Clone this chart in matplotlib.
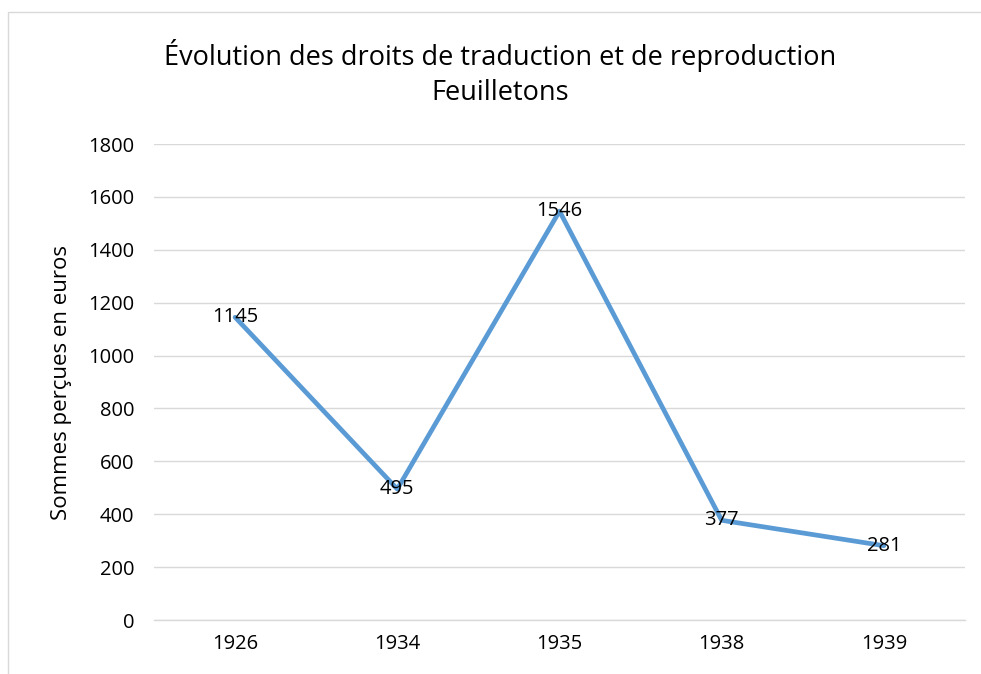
import matplotlib.pyplot as plt
from matplotlib.patches import Rectangle

annees = ['1926', '1934', '1935', '1938', '1939']
sommes = [1145, 495, 1546, 377, 281]
yticks = [0, 200, 400, 600, 800, 1000, 1200, 1400, 1600, 1800]

plt.rcParams['font.family'] = ['Open Sans', 'DejaVu Sans']

fig = plt.figure(figsize=(9.81, 6.74), dpi=100)
ax = fig.add_axes([154/981, 1 - 620/674, 811/981, 476/674])

# cadre du graphique
fig.add_artist(Rectangle((8/981, -0.1), 1.2, 1 - 12/674 + 0.1, transform=fig.transFigure,
                         fill=False, edgecolor='#d9d9d9', linewidth=1))

x = range(len(annees))
ax.plot(x, sommes, color='#5b9bd5', linewidth=3.4, solid_capstyle='round', zorder=2)
for i, v in zip(x, sommes):
    ax.text(i, v, str(v), ha='center', va='center', fontsize=14.5, color='black', zorder=3)

ax.set_xlim(-0.5, len(annees) - 0.5)
ax.set_ylim(0, 1800)
ax.set_xticks(list(x))
ax.set_xticklabels(annees, fontsize=14.5)
ax.set_yticks(yticks)
ax.set_yticklabels([str(t) for t in yticks], fontsize=14.5)
ax.tick_params(length=0, pad=14)
ax.tick_params(axis='x', pad=10)
ax.grid(axis='y', color='#d9d9d9', linewidth=1)
ax.axhline(0, color='#d9d9d9', linewidth=1, clip_on=False, zorder=1)
ax.set_axisbelow(True)
for s in ax.spines.values():
    s.set_visible(False)

ax.set_ylabel('Sommes perçues en euros', fontsize=16, labelpad=12)
fig.text(0.51, 1 - 55/674, 'Évolution des droits de traduction et de reproduction', ha='center', va='center', fontsize=19.5)
fig.text(0.51, 1 - 93/674, 'Feuilletons', ha='center', va='center', fontsize=19.5)

fig.savefig('out.png', dpi=100)
